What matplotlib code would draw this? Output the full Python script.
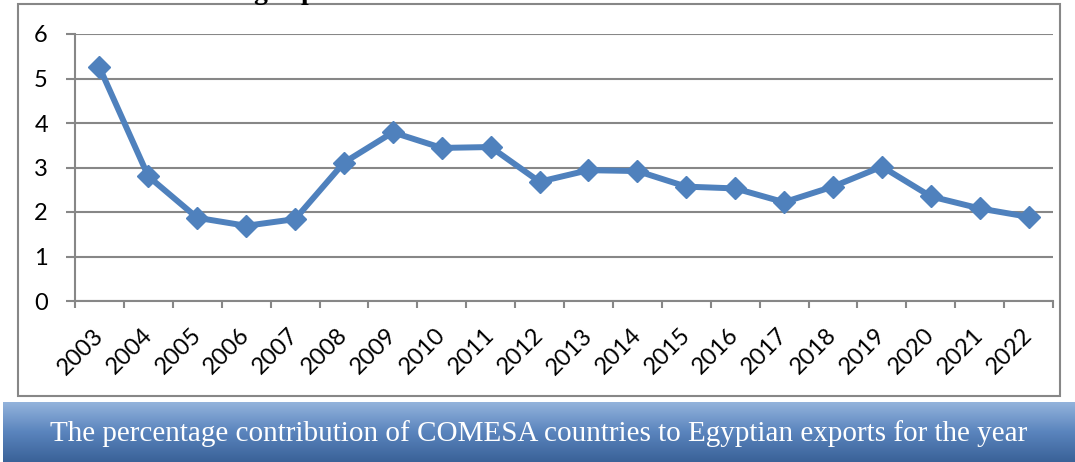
import numpy as np
import matplotlib
matplotlib.use("Agg")
import matplotlib.pyplot as plt
import matplotlib.transforms as mtransforms
from matplotlib.patches import Rectangle
from matplotlib.colors import LinearSegmentedColormap

# Data
years = ["2003", "2004", "2005", "2006", "2007", "2008", "2009", "2010", "2011", "2012",
         "2013", "2014", "2015", "2016", "2017", "2018", "2019", "2020", "2021", "2022"]
share = [5.25, 2.80, 1.87, 1.69, 1.84, 3.11, 3.79, 3.44, 3.46, 2.68,
         2.94, 2.92, 2.57, 2.53, 2.22, 2.57, 3.02, 2.35, 2.08, 1.89]
y_ticks = [0, 1, 2, 3, 4, 5, 6]
caption = "The percentage contribution of COMESA countries to Egyptian exports for the year"
title_fragment = "g exp"

W, H = 1075, 462
fig = plt.figure(figsize=(W / 100, H / 100), dpi=100)
fig.patch.set_facecolor("white")

grey = "#878787"
blue = "#4f81bd"

# outer chart border
fig.add_artist(Rectangle((18 / W, 1 - 396 / H), (1060 - 18) / W, (396 - 4) / H,
                         transform=fig.transFigure, fill=False, edgecolor=grey, lw=1.5))

# title of the chart is cut off by the top edge, only descenders show
fig.text(285 / W, 1 + 1 / H, title_fragment, ha="center", va="baseline",
         fontsize=20, fontweight="bold", family="Liberation Serif", color="black")

# main plot
ax = fig.add_axes([75 / W, 1 - 301 / H, (1053 - 75) / W, (301 - 34) / H])
x = np.arange(len(years))
ax.plot(x, share, color=blue, lw=4.3, marker="D", markersize=11.5,
        markerfacecolor=blue, markeredgecolor=blue, solid_joinstyle="round")

ax.set_xlim(-0.5, len(years) - 0.5)
ax.set_ylim(0, 6)
ax.set_yticks(y_ticks)
ax.set_yticklabels([str(v) for v in y_ticks], family="Lato", fontsize=17)
ax.yaxis.grid(True, color=grey, lw=1.5)
ax.set_axisbelow(True)

# category ticks between the labels, labels in the middle
ax.set_xticks(np.arange(len(years) + 1) - 0.5)
ax.set_xticklabels([])
ax.set_xticks(x, minor=True)
ax.set_xticklabels(years, minor=True, rotation=45, ha="right", va="top",
                   rotation_mode="anchor", family="Lato", fontsize=17)
ax.tick_params(axis="x", which="major", length=5, width=1.5, color=grey, direction="out")
ax.tick_params(axis="x", which="minor", length=0, pad=12)
ax.tick_params(axis="y", length=6.5, width=1.5, color=grey, pad=13)
shift = mtransforms.ScaledTranslation(-7 / 100, -7 / 100, fig.dpi_scale_trans)
for lbl in ax.get_xticklabels(minor=True):
    lbl.set_transform(lbl.get_transform() + shift)

for side in ("top", "right"):
    ax.spines[side].set_visible(False)
for side in ("left", "bottom"):
    ax.spines[side].set_color(grey)
    ax.spines[side].set_linewidth(1.5)

# caption banner with vertical gradient
bax = fig.add_axes([3 / W, 0, 1 - 3 / W, 60 / H])
cmap = LinearSegmentedColormap.from_list("band", ["#93b3dc", "#5a84bd", "#3a6298"])
bax.imshow(np.linspace(0, 1, 100).reshape(-1, 1), aspect="auto", cmap=cmap,
           extent=[0, 1, 0, 1])
bax.set_axis_off()
bax.text(0.5, 0.48, caption, ha="center", va="center", color="white",
         family="Liberation Serif", fontsize=21, transform=bax.transAxes)

fig.savefig("out.png", dpi=100)
